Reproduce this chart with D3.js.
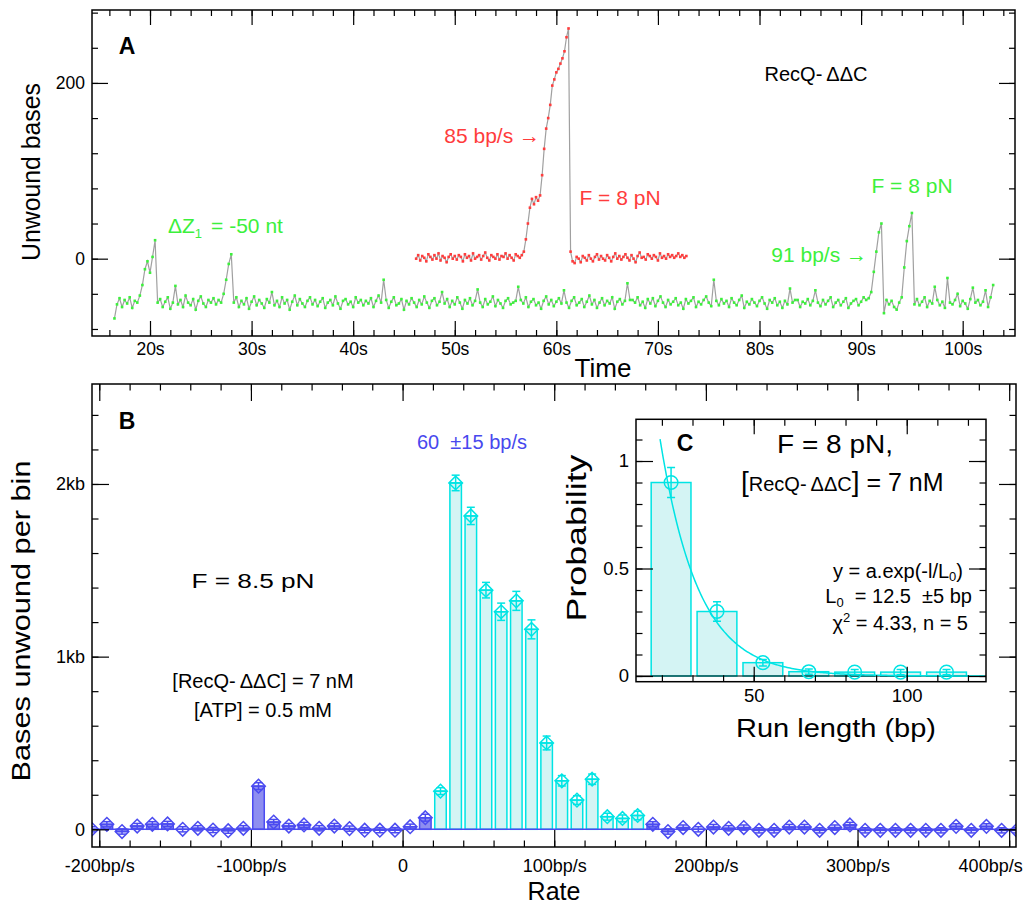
<!DOCTYPE html>
<html><head><meta charset="utf-8">
<script src="https://cdn.jsdelivr.net/npm/d3@7"></script>
<style>body{margin:0;background:#fff}svg text{font-family:"Liberation Sans",Arial,Helvetica,sans-serif;white-space:pre}</style>
</head><body><svg id="c" width="1025" height="906"></svg>
<script>
// ---------------- DATA ----------------
// Panel A : time traces (sample grid start/step, values in unwound bases)
const greenStart = 16.5, greenStep = 0.25;
const greenTrace = [
-68,-52,-45,-55,-47,-51,-44,-56,-48,-50,-42,-30,-12,-3,-16,2,21,-50,-46,-55,
-49,-44,-57,-50,-31,-52,-47,-55,-42,-50,-53,-46,-58,-48,-43,-51,-55,-47,-50,-45,
-52,-47,-50,-40,-24,-6,5,-50,-44,-55,-48,-52,-45,-57,-49,-43,-53,-47,-51,-56,
-46,-50,-38,-53,-48,-55,-44,-51,-47,-58,-49,-42,-53,-46,-51,-55,-48,-44,-52,-47,
-54,-49,-45,-56,-50,-47,-53,-43,-51,-57,-48,-46,-52,-49,-55,-44,-50,-47,-53,-48,
-51,-45,-55,-48,-42,-50,-24,-47,-56,-49,-44,-53,-51,-46,-58,-48,-52,-45,-50,-55,
-47,-52,-43,-50,-56,-48,-45,-53,-49,-38,-51,-46,-55,-48,-52,-44,-50,-57,-47,-51,
-45,-53,-48,-35,-50,-55,-46,-52,-49,-43,-54,-47,-51,-56,-48,-45,-52,-50,-48,-32,
-47,-51,-44,-55,-49,-46,-53,-50,-57,-48,-43,-52,-47,-54,-49,-45,-51,-36,-50,-56,
-48,-44,-53,-50,-46,-55,-49,-42,-52,-47,-56,-50,-45,-53,-48,-51,-44,-57,-49,-46,
-52,-48,-28,-47,-47,-50,-44,-53,-49,-56,-46,-51,-45,-54,-48,-43,-50,-55,-47,-52,
-49,-45,-53,-50,-57,-46,-51,-48,-44,-55,-49,-52,-47,-43,-50,-54,-24,-48,-53,-46,
-51,-48,-55,-45,-50,-53,-47,-42,-56,-49,-52,-46,-50,-54,-48,-44,-51,-57,-47,-50,
-45,-53,-49,-56,-48,-52,-34,-50,-47,-47,-55,-49,-51,-46,-53,-48,-36,-50,-54,-47,
-52,-48,-44,-55,-50,-47,-53,-49,-45,-56,-51,-48,-46,-53,-49,-44,-47,-45,-38,-15,
8,30,40,-62,-47,-52,-48,-55,-58,-50,-44,-10,20,37,52,-52,-46,-53,-49,-44,
-55,-48,-51,-32,-47,-53,-49,-56,-22,-50,-52,-47,-40,-54,-48,-51,-57,-46,-33,-50,
-47,-53,-49,-36,-55,-44,-30];
const redStart = 46.2, redStep = 0.2;
const redTrace = [
0,4,-2,3,1,-3,5,2,-1,4,0,6,-2,3,1,-4,2,5,0,3,
-1,4,2,-3,5,1,3,-2,6,0,2,4,-1,3,7,1,-2,4,2,0,
5,-1,3,2,6,0,4,1,-2,5,3,1,4,
8,22,40,58,68,62,70,66,72,95,125,148,160,175,197,204,212,216,222,228,236,252,262,
8,-3,
-5,2,0,-4,3,1,-2,4,0,-3,2,5,-1,3,0,-2,4,1,-3,2,
6,0,3,-1,2,5,1,-2,4,0,-4,3,7,1,2,-1,5,3,0,4,
2,-2,6,1,3,0,5,2,4,1,3,6,2,4,1,3];
const timeTicks = [20,30,40,50,60,70,80,90,100];
const unwoundTicks = [0,200];

// Panel B : rate histogram (bin centres in bp/s, bases unwound per bin)
const cyanRates  = [25,35,45,55,65,75,85,95,105,115,125,135,145,155];
const cyanValues = [221,2006,1815,1385,1260,1323,1158,500,281,169,290,73,63,80];
const cyanErrors = [20,45,50,45,50,55,55,40,30,25,30,20,20,25];
const blueRates  = [-205,-195,-185,-175,-165,-155,-145,-135,-125,-115,-105,-95,-85,-75,-65,-55,-45,-35,-25,-15,-5,5,15,
                    165,175,185,195,205,215,225,235,245,255,265,275,285,295,305,315,325,335,345,355,365,375,385,395,405];
const blueValues = [0,29,-13,19,29,31,0,6,-4,-8,6,250,42,19,25,6,19,4,-5,-5,-5,15,67,
                    29,-13,10,0,13,6,10,-6,-6,13,13,-6,10,25,-6,-6,-6,-6,-6,-6,17,-6,17,-6,-6];
const blueErrors = [15,15,15,15,15,15,15,15,15,15,15,20,15,15,15,15,15,15,15,15,15,15,20,
                    15,15,15,15,15,15,15,15,15,15,15,15,15,15,15,15,15,15,15,15,15,15,15,15,15];
const rateTicks = [-200,-100,0,100,200,300,400];
const binTicks = [0,1000,2000];

// Panel C : run length distribution
const runCenters = [23,38,53,68,83,98,113];
const runProb    = [0.9,0.3,0.062,0.02,0.018,0.018,0.018];
const runErr     = [0.07,0.045,0.015,0.012,0.012,0.012,0.012];
const fitA = 5.2, fitL0 = 12.5;
const runTicks = [50,100];
const probTicks = [0,0.5,1];

// ---------------- DRAW ----------------
const svg = d3.select("#c");
const FONT = '"Liberation Sans", Arial, Helvetica, sans-serif';
const GREEN = "#3cf03c", RED = "#ff3c3c", GRAY = "#a0a0a0";
const CYAN = "#00e4e4", CYANF = "#d4f4f4", BLUE = "#4b4bf0", BLUEF = "#8e8ef0", BLUET = "#4848ee";

function frameAxes(g, x, y, box, o) {
  const rm = s => s.select(".domain").remove();
  const add = (tr, ax) => g.append("g").attr("transform", tr).call(ax).call(rm);
  add(`translate(0,${box.b})`, d3.axisBottom(x).tickValues(o.xMaj).tickSize(-o.xMajLen).tickPadding(o.xPad).tickFormat(o.xFmt));
  add(`translate(0,${box.b})`, d3.axisBottom(x).tickValues(o.xMin).tickSize(-o.minLen).tickFormat(""));
  add(`translate(0,${box.t})`, d3.axisTop(x).tickValues(o.xMaj).tickSize(-o.xMajLen).tickFormat(""));
  add(`translate(0,${box.t})`, d3.axisTop(x).tickValues(o.xMin).tickSize(-o.minLen).tickFormat(""));
  add(`translate(${box.l},0)`, d3.axisLeft(y).tickValues(o.yMaj).tickSize(-o.yMajLen).tickPadding(o.yPad).tickFormat(o.yFmt));
  add(`translate(${box.l},0)`, d3.axisLeft(y).tickValues(o.yMin).tickSize(-o.minLen).tickFormat(""));
  add(`translate(${box.r},0)`, d3.axisRight(y).tickValues(o.yMaj).tickSize(-o.yMajLen).tickFormat(""));
  add(`translate(${box.r},0)`, d3.axisRight(y).tickValues(o.yMin).tickSize(-o.minLen).tickFormat(""));
  g.selectAll(".tick text").attr("font-size", o.fs).attr("font-family", FONT).attr("fill", "#000");
  g.selectAll(".tick line").attr("stroke", "#000").attr("stroke-width", 1.2);
  g.append("rect").attr("x", box.l).attr("y", box.t).attr("width", box.r - box.l).attr("height", box.b - box.t)
    .attr("fill", "none").attr("stroke", "#000").attr("stroke-width", 1.5);
}
function txt(g, x, y, s, fs, fill, anchor, extra) {
  const t = g.append("text").attr("x", x).attr("y", y).attr("font-size", fs).attr("fill", fill || "#000")
    .attr("text-anchor", anchor || "start").text(s);
  if (extra) for (const k in extra) t.attr(k, extra[k]);
  return t;
}

// ===== Panel A =====
const boxA = {l: 92, r: 1015, t: 10, b: 336};
const xA = d3.scaleLinear().domain([14.29, 105.15]).range([boxA.l, boxA.r]);
const yA = d3.scaleLinear().domain([-88, 283]).range([boxA.b, boxA.t]);
const gA = svg.append("g");
svg.append("clipPath").attr("id", "clipA").append("rect")
  .attr("x", boxA.l).attr("y", boxA.t).attr("width", boxA.r - boxA.l).attr("height", boxA.b - boxA.t);
const pA = gA.append("g").attr("clip-path", "url(#clipA)");
const lineA = d3.line().x(d => xA(d[0])).y(d => yA(d[1]));
function trace(start, step, vals, col) {
  const pts = vals.map((v, i) => [start + i * step, v]);
  pA.append("path").datum(pts).attr("d", lineA).attr("fill", "none").attr("stroke", GRAY).attr("stroke-width", 1.2);
  pA.append("g").selectAll("rect").data(pts).join("rect")
    .attr("x", d => xA(d[0]) - 1.3).attr("y", d => yA(d[1]) - 1.3).attr("width", 2.6).attr("height", 2.6).attr("fill", col);
}
trace(greenStart, greenStep, greenTrace, GREEN);
trace(redStart, redStep, redTrace, RED);
frameAxes(gA, xA, yA, boxA, {
  xMaj: timeTicks, xMin: d3.range(16, 105, 2), yMaj: unwoundTicks, yMin: d3.range(-80, 281, 40),
  xFmt: d => d + "s", yFmt: d => String(d), xMajLen: 15, yMajLen: 16, minLen: 6, xPad: 7, yPad: 7, fs: 17.5
});
txt(gA, 127, 54, "A", 23, "#000", "middle", {"font-weight": "bold"});
txt(gA, 0, 0, "Unwound bases", 26, "#000", "middle", {transform: "translate(40,172) rotate(-90)", textLength: 178, lengthAdjust: "spacingAndGlyphs"});
txt(gA, 603, 377, "Time", 26, "#000", "middle");
txt(gA, 816, 80.5, "RecQ-\u2009\u0394\u0394C", 20, "#000", "middle");
// green annotations
const dz = txt(gA, 168, 233, "\u0394Z", 21, GREEN);
dz.append("tspan").attr("font-size", 13).attr("dy", 5).text("1");
dz.append("tspan").attr("dy", -5).attr("dx", 9).text("= -50 nt");
txt(gA, 912, 193, "F = 8 pN", 21, GREEN, "middle");
txt(gA, 867, 261.5, "91 bp/s \u2192", 21, GREEN, "end");
// red annotations
txt(gA, 540, 143, "85 bp/s \u2192", 21, RED, "end");
txt(gA, 620, 205, "F = 8 pN", 21, RED, "middle");

// ===== Panel B =====
const boxB = {l: 92, r: 1016, t: 384, b: 847};
const xB = d3.scaleLinear().domain([-204.8, 404.5]).range([boxB.l, boxB.r]);
const yB = d3.scaleLinear().domain([-102.5, 2579]).range([boxB.b, boxB.t]);
const gB = svg.append("g");
svg.append("clipPath").attr("id", "clipB").append("rect")
  .attr("x", boxB.l).attr("y", boxB.t).attr("width", boxB.r - boxB.l).attr("height", boxB.b - boxB.t);
const pB = gB.append("g").attr("clip-path", "url(#clipB)");
const halfBin = 3.8;
const cyanData = cyanRates.map((r, i) => ({r, v: cyanValues[i], e: cyanErrors[i]}));
const blueData = blueRates.map((r, i) => ({r, v: blueValues[i], e: blueErrors[i]}));
function bars(data, stroke, fill) {
  pB.append("g").selectAll("rect").data(data).join("rect")
    .attr("x", d => xB(d.r - halfBin)).attr("width", d => xB(d.r + halfBin) - xB(d.r - halfBin))
    .attr("y", d => yB(Math.max(d.v, 0))).attr("height", d => Math.abs(yB(d.v) - yB(0)))
    .attr("fill", fill).attr("stroke", stroke).attr("stroke-width", 1.5);
}
bars(blueData, BLUE, BLUEF);
bars(cyanData, CYAN, CYANF);
pB.append("line").attr("x1", boxB.l).attr("x2", boxB.r).attr("y1", yB(0)).attr("y2", yB(0))
  .attr("stroke", BLUE).attr("stroke-width", 1.6);
function markers(data, col) {
  const g = pB.append("g").attr("stroke", col).attr("stroke-width", 1.5).attr("fill", "none");
  g.selectAll("line.v").data(data).join("line").attr("class", "v")
    .attr("x1", d => xB(d.r)).attr("x2", d => xB(d.r)).attr("y1", d => yB(d.v - d.e)).attr("y2", d => yB(d.v + d.e));
  g.selectAll("line.t").data(data).join("line").attr("class", "t")
    .attr("x1", d => xB(d.r) - 4).attr("x2", d => xB(d.r) + 4).attr("y1", d => yB(d.v + d.e)).attr("y2", d => yB(d.v + d.e));
  g.selectAll("line.b").data(data).join("line").attr("class", "b")
    .attr("x1", d => xB(d.r) - 4).attr("x2", d => xB(d.r) + 4).attr("y1", d => yB(d.v - d.e)).attr("y2", d => yB(d.v - d.e));
  g.selectAll("line.h").data(data).join("line").attr("class", "h")
    .attr("x1", d => xB(d.r) - 6.5).attr("x2", d => xB(d.r) + 6.5).attr("y1", d => yB(d.v)).attr("y2", d => yB(d.v));
  g.selectAll("path").data(data).join("path")
    .attr("d", d => { const cx = xB(d.r), cy = yB(d.v), s = 6.8;
      return `M${cx},${cy - s}L${cx + s},${cy}L${cx},${cy + s}L${cx - s},${cy}Z`; });
}
markers(blueData, BLUE);
markers(cyanData, CYAN);
frameAxes(gB, xB, yB, boxB, {
  xMaj: rateTicks, xMin: d3.range(-200, 401, 20), yMaj: binTicks, yMin: d3.range(0, 2401, 200),
  xFmt: d => d === 0 ? "0" : d + "bp/s", yFmt: d => d === 0 ? "0" : (d / 1000) + "kb",
  xMajLen: 17, yMajLen: 17, minLen: 6.5, xPad: 12, yPad: 7, fs: 18
});
// last rate label sits left of its tick so it stays inside the page (as in the original)
gB.selectAll(".tick text").filter(d => d === 400).attr("text-anchor", "end").attr("x", 13);
txt(gB, 127, 429, "B", 23, "#000", "middle", {"font-weight": "bold"});
txt(gB, 0, 0, "Bases unwound per bin", 26, "#000", "middle", {transform: "translate(30,621) rotate(-90)", textLength: 321, lengthAdjust: "spacingAndGlyphs"});
txt(gB, 554, 900, "Rate", 25, "#000", "middle");
txt(gB, 253, 588, "F = 8.5 pN", 20, "#000", "middle", {"font-family": "DejaVu Sans", textLength: 123, lengthAdjust: "spacingAndGlyphs"});
txt(gB, 263, 688, "[RecQ-\u2009\u0394\u0394C] = 7 nM", 20, "#000", "middle");
txt(gB, 263, 717, "[ATP] = 0.5 mM", 20, "#000", "middle");
txt(gB, 417, 449, "60  \u00b115 bp/s", 20, BLUET, "start");

// ===== Panel C (inset) =====
const boxC = {l: 636, r: 986, t: 419.3, b: 681.7};
const xC = d3.scaleLinear().domain([11.54, 125.9]).range([boxC.l, boxC.r]);
const yC = d3.scaleLinear().domain([-0.0265, 1.194]).range([boxC.b, boxC.t]);
const gC = svg.append("g");
gC.append("rect").attr("x", boxC.l).attr("y", boxC.t).attr("width", boxC.r - boxC.l).attr("height", boxC.b - boxC.t).attr("fill", "#fff");
svg.append("clipPath").attr("id", "clipC").append("rect")
  .attr("x", boxC.l).attr("y", boxC.t).attr("width", boxC.r - boxC.l).attr("height", boxC.b - boxC.t);
const pC = gC.append("g").attr("clip-path", "url(#clipC)");
const runData = runCenters.map((c, i) => ({c, p: runProb[i], e: runErr[i]}));
pC.append("g").selectAll("rect").data(runData).join("rect")
  .attr("x", d => xC(d.c - 6.5)).attr("width", d => xC(d.c + 6.5) - xC(d.c - 6.5))
  .attr("y", d => yC(d.p)).attr("height", d => yC(0) - yC(d.p))
  .attr("fill", CYANF).attr("stroke", CYAN).attr("stroke-width", 1.5);
pC.append("line").attr("x1", boxC.l).attr("x2", boxC.r).attr("y1", yC(0)).attr("y2", yC(0)).attr("stroke", "#000").attr("stroke-width", 1.2);
const fitPts = d3.range(19.4, 125.5, 0.5).map(l => [l, fitA * Math.exp(-l / fitL0)]);
pC.append("path").datum(fitPts).attr("d", d3.line().x(d => xC(d[0])).y(d => yC(d[1])))
  .attr("fill", "none").attr("stroke", CYAN).attr("stroke-width", 1.5);
const mc = pC.append("g").attr("stroke", CYAN).attr("stroke-width", 1.5).attr("fill", "none");
mc.selectAll("line.v").data(runData).join("line").attr("class", "v")
  .attr("x1", d => xC(d.c)).attr("x2", d => xC(d.c)).attr("y1", d => yC(d.p - d.e)).attr("y2", d => yC(d.p + d.e));
mc.selectAll("line.t").data(runData).join("line").attr("class", "t")
  .attr("x1", d => xC(d.c) - 4).attr("x2", d => xC(d.c) + 4).attr("y1", d => yC(d.p + d.e)).attr("y2", d => yC(d.p + d.e));
mc.selectAll("line.b").data(runData).join("line").attr("class", "b")
  .attr("x1", d => xC(d.c) - 4).attr("x2", d => xC(d.c) + 4).attr("y1", d => yC(d.p - d.e)).attr("y2", d => yC(d.p - d.e));
mc.selectAll("circle").data(runData).join("circle")
  .attr("cx", d => xC(d.c)).attr("cy", d => yC(d.p)).attr("r", 6.8);
frameAxes(gC, xC, yC, boxC, {
  xMaj: runTicks, xMin: d3.range(20, 121, 10), yMaj: probTicks, yMin: d3.range(0, 1.15, 0.1),
  xFmt: d => String(d), yFmt: d => String(d), xMajLen: 15, yMajLen: 17, minLen: 6.5, xPad: 7, yPad: 7, fs: 18.5
});
txt(gC, 685, 451, "C", 23, "#000", "middle", {"font-weight": "bold"});
txt(gC, 835, 453, "F = 8 pN,", 26, "#000", "middle", {textLength: 116, lengthAdjust: "spacingAndGlyphs"});
const rq = txt(gC, 741, 490.5, "[", 28, "#000", "start");
rq.append("tspan").attr("font-size", 20).text("RecQ-\u2009\u0394\u0394C");
rq.append("tspan").attr("font-size", 28).text("]");
rq.append("tspan").attr("font-size", 25).text(" = 7 nM");
const fy = txt(gC, 963, 578, "y = a.exp(-l/L", 20, "#000", "end");
fy.append("tspan").attr("font-size", 13).attr("dy", 3).text("0");
fy.append("tspan").attr("dy", -3).text(")");
const fl = txt(gC, 972, 603, "L", 20, "#000", "end");
fl.append("tspan").attr("font-size", 13).attr("dy", 4).text("0");
fl.append("tspan").attr("dy", -4).text("  = 12.5  \u00b15 bp");
const fc = txt(gC, 968, 630, "\u03c7", 20, "#000", "end");
fc.append("tspan").attr("font-size", 13).attr("dy", -8).text("2");
fc.append("tspan").attr("dy", 8).text(" = 4.33, n = 5");
txt(gC, 0, 0, "Probability", 27, "#000", "middle", {transform: "translate(586,538) rotate(-90)", textLength: 167, lengthAdjust: "spacingAndGlyphs"});
txt(gC, 836, 737, "Run length (bp)", 25.5, "#000", "middle", {textLength: 200, lengthAdjust: "spacingAndGlyphs"});
</script></body></html>
